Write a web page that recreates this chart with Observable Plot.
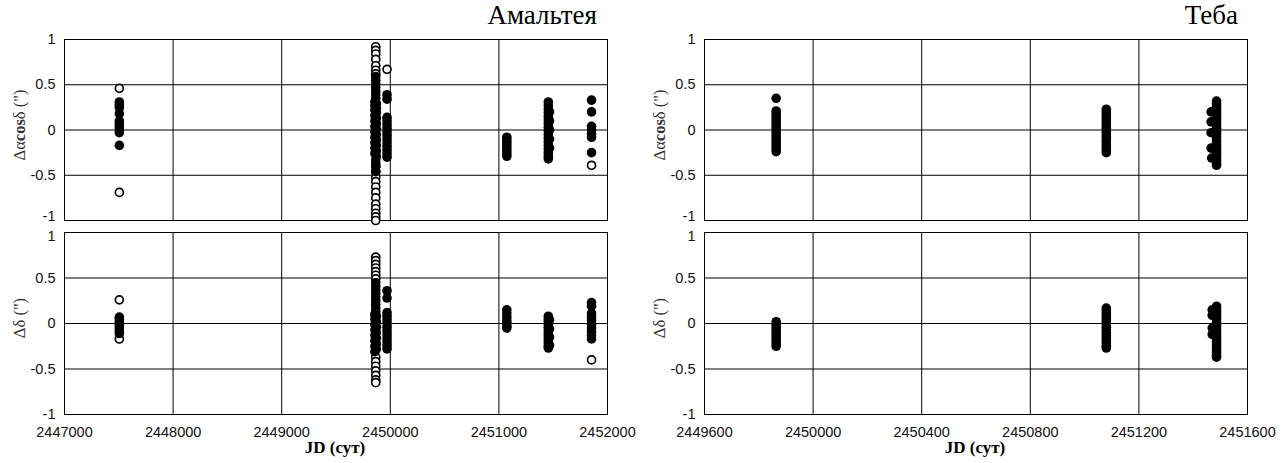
<!DOCTYPE html>
<html><head><meta charset="utf-8">
<script src="https://cdn.jsdelivr.net/npm/d3@7"></script>
<script src="https://cdn.jsdelivr.net/npm/@observablehq/plot@0.6"></script>
<style>
body{margin:0;background:#fff;}
#chart{position:relative;width:1286px;height:463px;overflow:hidden;background:#fff;}
#chart svg{position:absolute;}
</style></head>
<body><div id="chart"></div>
<script>
// ---- tick values ----
const yTicks = [-1, -0.5, 0, 0.5, 1];
const amaltheaXTicks = [2447000, 2448000, 2449000, 2450000, 2451000, 2452000];
const thebeXTicks = [2449600, 2450000, 2450400, 2450800, 2451200, 2451600];

// ---- labels ----
const amaltheaTitle = "Амальтея";
const thebeTitle = "Теба";
const xLabel = "JD (сут)";

// ---- Amalthea, Δα cosδ ----
const amaltheaRA_open = [
  [2447505, 0.46], [2447505, -0.69],
  [2449866, 0.92], [2449866, 0.88], [2449866, 0.84], [2449866, 0.78], [2449866, 0.71], [2449866, 0.66], [2449866, 0.62],
  [2449970, 0.67],
  [2449866, -0.40], [2449866, -0.46], [2449866, -0.52], [2449866, -0.57], [2449866, -0.63], [2449866, -0.69],
  [2449866, -0.75], [2449866, -0.82], [2449866, -0.87], [2449866, -0.92], [2449866, -0.96], [2449866, -1.0],
  [2451853, -0.39]
];
const amaltheaRA_filled = [
  [2447505, 0.31], [2447505, 0.28], [2447505, 0.25], [2447505, 0.18], [2447505, 0.10], [2447505, 0.06],
  [2447505, 0.03], [2447505, 0.00], [2447505, -0.03], [2447505, -0.17],
  [2449866, 0.59], [2449866, 0.55], [2449866, 0.51], [2449866, 0.47], [2449866, 0.43], [2449866, 0.39], [2449866, 0.35],
  [2449858, 0.31], [2449872, 0.29], [2449858, 0.27], [2449872, 0.24], [2449858, 0.22], [2449872, 0.19], [2449858, 0.16],
  [2449872, 0.13], [2449858, 0.10], [2449872, 0.07], [2449858, 0.04], [2449872, 0.01], [2449858, -0.02], [2449872, -0.05],
  [2449858, -0.08], [2449872, -0.11], [2449858, -0.14], [2449872, -0.17], [2449858, -0.20], [2449872, -0.23],
  [2449858, -0.26], [2449872, -0.29],
  [2449866, -0.33], [2449866, -0.37], [2449866, -0.41], [2449866, -0.46],
  [2449970, 0.39], [2449970, 0.34], [2449970, 0.14], [2449970, 0.10], [2449970, 0.06], [2449970, 0.02], [2449970, -0.02],
  [2449970, -0.06], [2449970, -0.10], [2449970, -0.14], [2449970, -0.18], [2449970, -0.22], [2449970, -0.26], [2449970, -0.30],
  [2451073, -0.08], [2451073, -0.11], [2451073, -0.14], [2451073, -0.17], [2451073, -0.20], [2451073, -0.23],
  [2451073, -0.26], [2451073, -0.29],
  [2451455, 0.31], [2451455, 0.27], [2451455, 0.23], [2451455, 0.19], [2451455, 0.15], [2451455, 0.11], [2451455, 0.07],
  [2451455, 0.03], [2451455, -0.01], [2451455, -0.05], [2451455, -0.09], [2451455, -0.13], [2451455, -0.17],
  [2451455, -0.21], [2451455, -0.25], [2451455, -0.29], [2451455, -0.32],
  [2451466, 0.20], [2451466, 0.10], [2451466, 0.00], [2451466, -0.10], [2451466, -0.20],
  [2451853, 0.33], [2451853, 0.20], [2451853, 0.04], [2451853, 0.00], [2451853, -0.04], [2451853, -0.08], [2451853, -0.25]
];

// ---- Amalthea, Δδ ----
const amaltheaDec_open = [
  [2447505, 0.26], [2447505, -0.17],
  [2449866, 0.73], [2449866, 0.69], [2449866, 0.65], [2449866, 0.61], [2449866, 0.57], [2449866, 0.53], [2449866, 0.49],
  [2449866, -0.37], [2449866, -0.42], [2449866, -0.47], [2449866, -0.52], [2449866, -0.57], [2449866, -0.62], [2449866, -0.65],
  [2451853, -0.40]
];
const amaltheaDec_filled = [
  [2447505, 0.07], [2447505, 0.04], [2447505, 0.01], [2447505, -0.02], [2447505, -0.05], [2447505, -0.08], [2447505, -0.11],
  [2449866, 0.45], [2449866, 0.41], [2449866, 0.37], [2449866, 0.33], [2449866, 0.29], [2449866, 0.25], [2449866, 0.21],
  [2449866, 0.17], [2449866, 0.13],
  [2449858, 0.10], [2449872, 0.08], [2449858, 0.05], [2449872, 0.02], [2449858, -0.01], [2449872, -0.04], [2449858, -0.07],
  [2449872, -0.10], [2449858, -0.13], [2449872, -0.16], [2449858, -0.19], [2449872, -0.22], [2449858, -0.25],
  [2449872, -0.28], [2449858, -0.31],
  [2449970, 0.36], [2449970, 0.28], [2449970, 0.12], [2449970, 0.08], [2449970, 0.04], [2449970, 0.00], [2449970, -0.04],
  [2449970, -0.08], [2449970, -0.12], [2449970, -0.16], [2449970, -0.20], [2449970, -0.24], [2449970, -0.28],
  [2451073, 0.15], [2451073, 0.11], [2451073, 0.07], [2451073, 0.03], [2451073, 0.00], [2451073, -0.03], [2451073, -0.05],
  [2451455, 0.08], [2451455, 0.05], [2451455, 0.02], [2451455, -0.01], [2451455, -0.04], [2451455, -0.07], [2451455, -0.10],
  [2451455, -0.13], [2451455, -0.16], [2451455, -0.19], [2451455, -0.22], [2451455, -0.25], [2451455, -0.27],
  [2451466, 0.04], [2451466, -0.06], [2451466, -0.15], [2451466, -0.24],
  [2451853, 0.23], [2451853, 0.19], [2451853, 0.11], [2451853, 0.07], [2451853, 0.03], [2451853, -0.01], [2451853, -0.05],
  [2451853, -0.09], [2451853, -0.13], [2451853, -0.17]
];

// ---- Thebe, Δα cosδ ----
const thebeRA_filled = [
  [2449864, 0.35], [2449864, 0.21], [2449864, 0.18], [2449864, 0.15], [2449864, 0.12], [2449864, 0.09], [2449864, 0.06],
  [2449864, 0.03], [2449864, 0.00], [2449864, -0.03], [2449864, -0.06], [2449864, -0.09], [2449864, -0.12],
  [2449864, -0.15], [2449864, -0.18], [2449864, -0.21], [2449864, -0.24],
  [2451080, 0.23], [2451080, 0.20], [2451080, 0.17], [2451080, 0.14], [2451080, 0.11], [2451080, 0.08], [2451080, 0.05],
  [2451080, 0.02], [2451080, -0.01], [2451080, -0.04], [2451080, -0.07], [2451080, -0.10], [2451080, -0.13],
  [2451080, -0.16], [2451080, -0.19], [2451080, -0.22], [2451080, -0.25],
  [2451486, 0.32], [2451486, 0.29], [2451486, 0.26], [2451486, 0.23], [2451486, 0.20], [2451486, 0.17], [2451486, 0.14],
  [2451486, 0.11], [2451486, 0.08], [2451486, 0.05], [2451486, 0.02], [2451486, -0.01], [2451486, -0.04],
  [2451486, -0.07], [2451486, -0.10], [2451486, -0.13], [2451486, -0.16], [2451486, -0.19], [2451486, -0.22],
  [2451486, -0.25], [2451486, -0.28], [2451486, -0.31], [2451486, -0.34], [2451486, -0.37], [2451486, -0.39],
  [2451466, 0.20], [2451466, 0.09], [2451466, -0.03], [2451466, -0.20], [2451468, -0.31]
];

// ---- Thebe, Δδ ----
const thebeDec_filled = [
  [2449864, 0.02], [2449864, -0.01], [2449864, -0.04], [2449864, -0.07], [2449864, -0.10], [2449864, -0.13],
  [2449864, -0.16], [2449864, -0.19], [2449864, -0.22], [2449864, -0.25],
  [2451080, 0.17], [2451080, 0.14], [2451080, 0.11], [2451080, 0.08], [2451080, 0.05], [2451080, 0.02], [2451080, -0.01],
  [2451080, -0.04], [2451080, -0.07], [2451080, -0.10], [2451080, -0.13], [2451080, -0.16], [2451080, -0.19],
  [2451080, -0.22], [2451080, -0.25], [2451080, -0.27],
  [2451486, 0.19], [2451486, 0.16], [2451486, 0.13], [2451486, 0.10], [2451486, 0.07], [2451486, 0.04], [2451486, 0.01],
  [2451486, -0.02], [2451486, -0.05], [2451486, -0.08], [2451486, -0.11], [2451486, -0.14], [2451486, -0.17],
  [2451486, -0.20], [2451486, -0.23], [2451486, -0.26], [2451486, -0.29], [2451486, -0.32], [2451486, -0.35], [2451486, -0.37],
  [2451470, 0.15], [2451470, 0.09], [2451470, -0.05], [2451470, -0.12]
];
const thebeDec_open = [];
const thebeRA_open = [];

const chart = document.getElementById("chart");
const fmt = d => String(d);

function makePanel(o) {
  const midTicks = yTicks.filter(v => v !== o.shiftTick);
  const marks = [
    Plot.gridX(o.xTicks, {stroke: "#000", strokeOpacity: 1, strokeWidth: 1}),
    Plot.gridY(yTicks, {stroke: "#000", strokeOpacity: 1, strokeWidth: 1}),
    Plot.frame({stroke: "#000", strokeWidth: 1}),
    Plot.axisY(midTicks, {tickSize: 0, tickPadding: 9, label: null, tickFormat: fmt, fill: "#111"}),
    Plot.axisY([o.shiftTick], {tickSize: 0, tickPadding: 9, label: null, tickFormat: fmt, fill: "#111", dy: o.shiftDy}),
    Plot.dot(o.open, {x: d => d[0], y: d => d[1], r: 4.0, fill: "#fff", stroke: "#000", strokeWidth: 1.7}),
    Plot.dot(o.filled, {x: d => d[0], y: d => d[1], r: 4.8, fill: "#000", stroke: "none"})
  ];
  if (o.showX) marks.push(Plot.axisX(o.xTicks, {tickSize: 0, tickPadding: 12, label: null, tickFormat: fmt, fill: "#111"}));
  const svg = Plot.plot({
    width: o.width, height: o.height,
    marginLeft: 64, marginRight: o.marginRight, marginTop: o.marginTop, marginBottom: o.marginBottom,
    style: {background: "transparent", overflow: "visible", fontFamily: "'Liberation Sans', Arial, sans-serif", fontSize: "14.5px", color: "#111"},
    x: {domain: [o.xTicks[0], o.xTicks[o.xTicks.length - 1]], axis: o.showX ? undefined : null},
    y: {domain: [-1, 1]},
    marks
  });
  svg.style.left = o.left + "px";
  svg.style.top = o.top + "px";
  const s = d3.select(svg);
  // y label
  const t = s.append("text")
    .attr("transform", `translate(25,${o.yLabelY}) rotate(-90)`)
    .attr("text-anchor", "middle")
    .attr("font-family", "'Liberation Serif', 'Times New Roman', serif")
    .attr("font-size", 16.5).attr("fill", "#333");
  o.yLabelParts.forEach(p => t.append("tspan").attr("font-weight", p[1] ? "bold" : "normal").text(p[0]));
  if (o.title) {
    s.append("text").attr("x", o.titleX).attr("y", 24).attr("text-anchor", "end")
      .attr("font-family", "'Liberation Serif', 'Times New Roman', serif").attr("font-size", 27).attr("fill", "#000")
      .text(o.title);
  }
  if (o.xLabel) {
    s.append("text").attr("x", o.xLabelX).attr("y", 233).attr("text-anchor", "middle")
      .attr("font-family", "'Liberation Serif', 'Times New Roman', serif").attr("font-size", 17)
      .attr("font-weight", "bold").attr("fill", "#000").text(o.xLabel);
  }
  chart.appendChild(svg);
}

const raLabel = [["Δα", false], ["cos", true], ["δ (\")", false]];
const decLabel = [["Δδ (\")", false]];

makePanel({left: 0, top: 0, width: 640, height: 232, marginRight: 33, marginTop: 39, marginBottom: 12,
  xTicks: amaltheaXTicks, open: amaltheaRA_open, filled: amaltheaRA_filled, showX: false,
  shiftTick: -1, shiftDy: -4,
  yLabelY: 125, yLabelParts: raLabel, title: amaltheaTitle, titleX: 597});
makePanel({left: 0, top: 220, width: 640, height: 243, marginRight: 33, marginTop: 12, marginBottom: 49,
  xTicks: amaltheaXTicks, open: amaltheaDec_open, filled: amaltheaDec_filled, showX: true,
  shiftTick: 1, shiftDy: 4,
  yLabelY: 98, yLabelParts: decLabel, xLabel: xLabel, xLabelX: 335});
makePanel({left: 640, top: 0, width: 646, height: 232, marginRight: 39, marginTop: 39, marginBottom: 12,
  xTicks: thebeXTicks, open: thebeRA_open, filled: thebeRA_filled, showX: false,
  shiftTick: -1, shiftDy: -4,
  yLabelY: 125, yLabelParts: raLabel, title: thebeTitle, titleX: 598});
makePanel({left: 640, top: 220, width: 646, height: 243, marginRight: 39, marginTop: 12, marginBottom: 49,
  xTicks: thebeXTicks, open: thebeDec_open, filled: thebeDec_filled, showX: true,
  shiftTick: 1, shiftDy: 4,
  yLabelY: 98, yLabelParts: decLabel, xLabel: xLabel, xLabelX: 335});
</script>
</body></html>
